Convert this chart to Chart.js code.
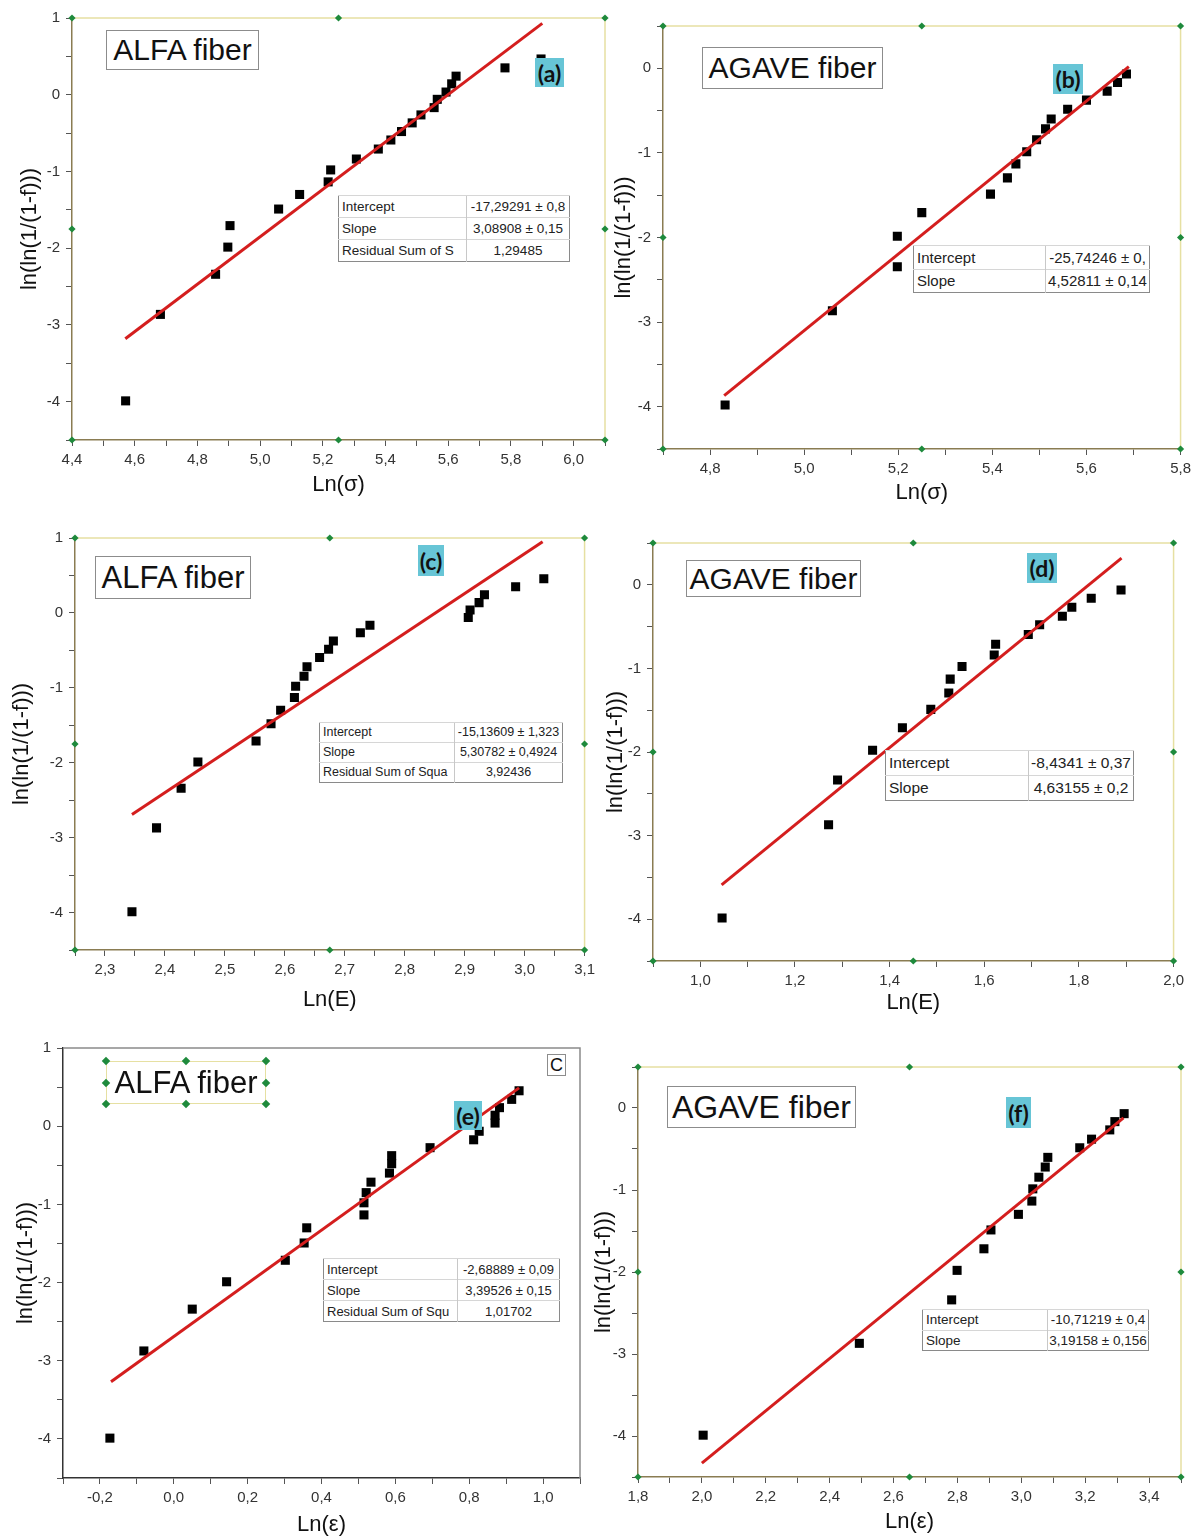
<!DOCTYPE html>
<html>
<head>
<meta charset="utf-8">
<script src="https://cdn.jsdelivr.net/npm/chart.js@4.4.1/dist/chart.umd.min.js"></script>
<style>
  body { margin:0; background:#fff; width:1197px; height:1538px; position:relative; overflow:hidden;
         font-family:"Liberation Sans", Arial, sans-serif; }
  canvas { position:absolute; }
  .ttl { position:absolute; box-sizing:border-box; border:1.5px solid #8c8c8c; background:#fff;
         display:flex; align-items:center; justify-content:center; color:#111; white-space:nowrap; }
  .tag { position:absolute; background:#67c5d6; font-family:Lato, "Open Sans", sans-serif; font-weight:bold;
         font-size:23px; display:flex; align-items:center; justify-content:center; color:#111; }
  table.fit { position:absolute; border-collapse:collapse; table-layout:fixed; background:#fff;
              border:1.5px solid #8a8a8a; color:#222; }
  table.fit td { border-top:1px solid #d6d6d6; padding:0 3px; white-space:nowrap; overflow:hidden; line-height:1; }
  table.fit td + td { border-left:1px solid #c8c8c8; text-align:center; padding:0 1px; }
  .hd { position:absolute; width:6px; height:6px; background:#1e8a3c; transform:rotate(45deg); }
</style>
</head>
<body>

<script>
// (a) ALFA fiber, Ln(sigma)
var alfaSigmaX = [4.571, 4.682, 4.858, 4.897, 4.904, 5.059, 5.126, 5.217, 5.225, 5.307, 5.377, 5.417, 5.451, 5.485, 5.513, 5.555, 5.565, 5.593, 5.611, 5.625, 5.781, 5.896];
var alfaSigmaY = [-3.99, -2.863, -2.34, -1.986, -1.706, -1.49, -1.30, -1.136, -0.98, -0.838, -0.708, -0.59, -0.48, -0.367, -0.263, -0.168, -0.06, 0.035, 0.142, 0.242, 0.35, 0.466];
var alfaSigmaFitX = [4.57, 5.90];
var alfaSigmaFitY = [-3.18, 0.93];

// (b) AGAVE fiber, Ln(sigma)
var agaveSigmaX = [4.832, 5.060, 5.198, 5.198, 5.250, 5.396, 5.432, 5.450, 5.473, 5.494, 5.513, 5.525, 5.560, 5.600, 5.644, 5.666, 5.685];
var agaveSigmaY = [-3.98, -2.865, -2.345, -1.985, -1.706, -1.487, -1.295, -1.13, -0.986, -0.845, -0.716, -0.60, -0.485, -0.376, -0.27, -0.168, -0.067];
var agaveSigmaFitX = [4.83, 5.69];
var agaveSigmaFitY = [-3.87, 0.02];

// (c) ALFA fiber, Ln(E)
var alfaEX = [2.345, 2.386, 2.427, 2.455, 2.552, 2.577, 2.593, 2.616, 2.618, 2.632, 2.637, 2.658, 2.673, 2.681, 2.726, 2.742, 2.906, 2.909, 2.924, 2.933, 2.985, 3.032];
var alfaEY = [-3.99, -2.87, -2.34, -1.99, -1.71, -1.48, -1.30, -1.13, -0.98, -0.845, -0.72, -0.595, -0.485, -0.376, -0.265, -0.165, -0.06, 0.04, 0.137, 0.243, 0.35, 0.455];
var alfaEFitX = [2.345, 3.03];
var alfaEFitY = [-2.69, 0.95];

// (d) AGAVE fiber, Ln(E)
var agaveEX = [1.046, 1.271, 1.290, 1.364, 1.427, 1.487, 1.525, 1.528, 1.553, 1.621, 1.624, 1.693, 1.717, 1.765, 1.785, 1.826, 1.889];
var agaveEY = [-3.985, -2.87, -2.335, -1.98, -1.71, -1.49, -1.294, -1.128, -0.977, -0.839, -0.712, -0.594, -0.479, -0.376, -0.269, -0.162, -0.063];
var agaveEFitX = [1.045, 1.89];
var agaveEFitY = [-3.59, 0.32];

// (e) ALFA fiber, Ln(epsilon)
var alfaEpsX = [-0.173, -0.081, 0.050, 0.143, 0.302, 0.353, 0.360, 0.515, 0.515, 0.521, 0.534, 0.584, 0.590, 0.590, 0.694, 0.812, 0.827, 0.870, 0.870, 0.882, 0.915, 0.935];
var alfaEpsY = [-3.99, -2.875, -2.34, -1.99, -1.715, -1.494, -1.30, -1.135, -0.98, -0.85, -0.716, -0.60, -0.48, -0.377, -0.275, -0.174, -0.065, 0.04, 0.14, 0.237, 0.343, 0.453];
var alfaEpsFitX = [-0.17, 0.935];
var alfaEpsFitY = [-3.27, 0.49];

// (f) AGAVE fiber, Ln(epsilon)
var agaveEpsX = [2.004, 2.493, 2.782, 2.799, 2.883, 2.905, 2.991, 3.033, 3.036, 3.055, 3.075, 3.083, 3.183, 3.220, 3.277, 3.293, 3.322];
var agaveEpsY = [-3.99, -2.87, -2.34, -1.98, -1.717, -1.487, -1.297, -1.135, -0.986, -0.844, -0.72, -0.602, -0.485, -0.38, -0.267, -0.166, -0.069];
var agaveEpsFitX = [2.0, 3.32];
var agaveEpsFitY = [-4.33, -0.12];

// axis ranges [min, max, tick step, label step]
var xAxisA = [4.4, 6.1, 0.1, 0.2];
var xAxisB = [4.7, 5.8, 0.1, 0.2];
var xAxisC = [2.25, 3.1, 0.05, 0.1];
var xAxisD = [0.9, 2.0, 0.1, 0.2];
var xAxisE = [-0.3, 1.1, 0.1, 0.2];
var xAxisF = [1.8, 3.5, 0.1, 0.2];
var yAxisTall = [-4.5, 1, 0.5, 1];
var yAxisShort = [-4.5, 0.5, 0.5, 1];

var yTitle = 'ln(ln(1/(1-f)))';

// layout: plot rectangle [left, top, right, bottom], y title centre x, x title offset
var panels = [
  { x: alfaSigmaX, y: alfaSigmaY, fx: alfaSigmaFitX, fy: alfaSigmaFitY, xa: xAxisA, ya: yAxisTall, xt: 'Ln(σ)', box: [72, 15, 605, 440], yT: 30, xT: 45, framed: true },
  { x: agaveSigmaX, y: agaveSigmaY, fx: agaveSigmaFitX, fy: agaveSigmaFitY, xa: xAxisB, ya: yAxisShort, xt: 'Ln(σ)', box: [663, 23, 1181, 449], yT: 624, xT: 44, framed: true },
  { x: alfaEX, y: alfaEY, fx: alfaEFitX, fy: alfaEFitY, xa: xAxisC, ya: yAxisTall, xt: 'Ln(E)', box: [75, 535, 585, 950], yT: 22, xT: 50, framed: true },
  { x: agaveEX, y: agaveEY, fx: agaveEFitX, fy: agaveEFitY, xa: xAxisD, ya: yAxisShort, xt: 'Ln(E)', box: [653, 540, 1174, 961], yT: 616, xT: 42, framed: true },
  { x: alfaEpsX, y: alfaEpsY, fx: alfaEpsFitX, fy: alfaEpsFitY, xa: xAxisE, ya: yAxisTall, xt: 'Ln(ε)', box: [63, 1045, 580, 1478], yT: 26, xT: 47, framed: false },
  { x: agaveEpsX, y: agaveEpsY, fx: agaveEpsFitX, fy: agaveEpsFitY, xa: xAxisF, ya: yAxisShort, xt: 'Ln(ε)', box: [638, 1064, 1181, 1477], yT: 604, xT: 45, framed: true }
];

function steps(a) {
  var out = [], n = Math.round((a[1] - a[0]) / a[2]);
  for (var i = 0; i <= n; i++) out.push(+(a[0] + i * a[2]).toFixed(4));
  return out;
}
function isStep(v, s) { return Math.abs(Math.round(v / s) * s - v) < 1e-6; }
function comma(v) { if (Math.abs(v) < 1e-9) v = 0; return v.toFixed(1).replace('.', ','); }

function diamond(ctx, x, y, r) {
  ctx.beginPath();
  ctx.moveTo(x, y - r); ctx.lineTo(x + r, y); ctx.lineTo(x, y + r); ctx.lineTo(x - r, y);
  ctx.closePath(); ctx.fill();
}

var framePlugin = {
  id: 'frame',
  afterDraw: function (chart, args, o) {
    var a = chart.chartArea, ctx = chart.ctx;
    ctx.save();
    ctx.strokeStyle = o.color; ctx.lineWidth = o.width;
    ctx.beginPath();
    ctx.moveTo(a.left, a.top); ctx.lineTo(a.right, a.top); ctx.lineTo(a.right, a.bottom);
    ctx.stroke();
    if (o.handles) {
      var mx = (a.left + a.right) / 2, my = (a.top + a.bottom) / 2;
      var pts = [[a.left, a.top], [mx, a.top], [a.right, a.top], [a.left, my], [a.right, my],
                 [a.left, a.bottom], [mx, a.bottom], [a.right, a.bottom]];
      ctx.fillStyle = '#1e8a3c';
      pts.forEach(function (p) { diamond(ctx, p[0], p[1], 3.6); });
    }
    ctx.restore();
  }
};

var FONT = '"Liberation Sans", Arial, sans-serif';

panels.forEach(function (p) {
  var L = p.box[0], T = p.box[1], R = p.box[2], B = p.box[3];
  var yw = L - p.yT + 11, xh = p.xT + 11;
  var left = L - yw, top = T - 12;
  var w = R + 15 - left, h = B + xh - top;
  var c = document.createElement('canvas');
  c.width = w; c.height = h;
  c.style.left = left + 'px'; c.style.top = top + 'px';
  c.style.width = w + 'px'; c.style.height = h + 'px';
  document.body.appendChild(c);

  var axisCol = p.framed ? '#8a7c52' : '#333';
  var pts = p.x.map(function (v, i) { return { x: v, y: p.y[i] }; });
  var fit = p.fx.map(function (v, i) { return { x: v, y: p.fy[i] }; });

  new Chart(c, {
    type: 'scatter',
    data: {
      datasets: [
        { data: fit, showLine: true, borderColor: 'rgb(212,30,30)', borderWidth: 3, pointRadius: 0, order: 0 },
        { data: pts, pointStyle: 'rect', pointRadius: 6.4, backgroundColor: '#000', borderWidth: 0, order: 1 }
      ]
    },
    options: {
      responsive: false, animation: false, events: [],
      layout: { padding: { top: 12, right: 15, bottom: 0, left: 0 } },
      plugins: {
        legend: { display: false }, tooltip: { enabled: false },
        frame: { color: p.framed ? '#e6e0a2' : '#8a8a8a', width: 1.5, handles: p.framed }
      },
      scales: {
        x: {
          type: 'linear', min: p.xa[0], max: p.xa[1],
          afterBuildTicks: function (s) { s.ticks = steps(p.xa).map(function (v) { return { value: v }; }); },
          afterFit: function (s) { s.height = xh; },
          ticks: {
            autoSkip: false, maxRotation: 0, padding: 5, color: '#333',
            font: { family: FONT, size: 15 },
            callback: function (v) { return isStep(v, p.xa[3]) ? comma(v) : ''; }
          },
          grid: { drawOnChartArea: false, drawTicks: true, tickLength: 6, tickColor: '#555', tickWidth: 1 },
          border: { display: true, color: axisCol, width: 1.5 },
          title: { display: true, text: p.xt, color: '#111', padding: 0, font: { family: FONT, size: 22, lineHeight: 1 } }
        },
        y: {
          type: 'linear', min: p.ya[0], max: p.ya[1],
          afterBuildTicks: function (s) { s.ticks = steps(p.ya).map(function (v) { return { value: v }; }); },
          afterFit: function (s) { s.width = yw; },
          ticks: {
            autoSkip: false, padding: 6, color: '#333',
            font: { family: FONT, size: 15 },
            callback: function (v) { return isStep(v, p.ya[3]) ? String(Math.round(v)) : ''; }
          },
          grid: { drawOnChartArea: false, drawTicks: true, tickLength: 6, tickColor: '#555', tickWidth: 1 },
          border: { display: true, color: axisCol, width: 1.5 },
          title: { display: true, text: yTitle, color: '#111', padding: 0, font: { family: FONT, size: 22, lineHeight: 1 } }
        }
      }
    },
    plugins: [framePlugin]
  });
});
</script>

<!-- (a) -->
<div class="ttl" style="left:106px;top:30px;width:153px;height:40px;font-size:30px">ALFA fiber</div>
<div class="tag" style="left:535px;top:58px;width:29px;height:29px">(a)</div>
<table class="fit" style="left:338px;top:195px;width:232px;font-size:13.5px">
  <colgroup><col style="width:128px"><col></colgroup>
  <tr style="height:22px"><td>Intercept</td><td>-17,29291 ± 0,8</td></tr>
  <tr style="height:22px"><td>Slope</td><td>3,08908 ± 0,15</td></tr>
  <tr style="height:22px"><td>Residual Sum of S</td><td>1,29485</td></tr>
</table>

<!-- (b) -->
<div class="ttl" style="left:702px;top:47px;width:181px;height:42px;font-size:30px">AGAVE fiber</div>
<div class="tag" style="left:1053px;top:64px;width:30px;height:30px">(b)</div>
<table class="fit" style="left:913px;top:245px;width:237px;font-size:15px">
  <colgroup><col style="width:132px"><col></colgroup>
  <tr style="height:23.5px"><td>Intercept</td><td>-25,74246 ± 0,</td></tr>
  <tr style="height:23.5px"><td>Slope</td><td>4,52811 ± 0,14</td></tr>
</table>

<!-- (c) -->
<div class="ttl" style="left:95px;top:556px;width:156px;height:43px;font-size:31px">ALFA fiber</div>
<div class="tag" style="left:418px;top:545px;width:26px;height:31px">(c)</div>
<table class="fit" style="left:319px;top:722px;width:244px;font-size:12.5px">
  <colgroup><col style="width:135px"><col></colgroup>
  <tr style="height:20px"><td>Intercept</td><td>-15,13609 ± 1,323</td></tr>
  <tr style="height:20px"><td>Slope</td><td>5,30782 ± 0,4924</td></tr>
  <tr style="height:20px"><td>Residual Sum of Squa</td><td>3,92436</td></tr>
</table>

<!-- (d) -->
<div class="ttl" style="left:686px;top:560px;width:175px;height:37px;font-size:30px">AGAVE fiber</div>
<div class="tag" style="left:1027px;top:553px;width:30px;height:30px">(d)</div>
<table class="fit" style="left:885px;top:750px;width:249px;font-size:15.5px">
  <colgroup><col style="width:143px"><col></colgroup>
  <tr style="height:25px"><td>Intercept</td><td>-8,4341 ± 0,37</td></tr>
  <tr style="height:25px"><td>Slope</td><td>4,63155 ± 0,2</td></tr>
</table>

<!-- (e) -->
<div class="ttl" style="left:106px;top:1061px;width:160px;height:43px;font-size:31px;border-color:#e6e0a2;background:transparent">ALFA fiber</div>
<div id="handles"></div>
<div class="ttl" style="left:547px;top:1054px;width:19px;height:22px;font-size:18px;border-width:1px">C</div>
<div class="tag" style="left:454px;top:1101px;width:28px;height:29px">(e)</div>
<table class="fit" style="left:323px;top:1258px;width:237px;font-size:13px">
  <colgroup><col style="width:134px"><col></colgroup>
  <tr style="height:21px"><td>Intercept</td><td>-2,68889 ± 0,09</td></tr>
  <tr style="height:21px"><td>Slope</td><td>3,39526 ± 0,15</td></tr>
  <tr style="height:21px"><td>Residual Sum of Squ</td><td>1,01702</td></tr>
</table>

<!-- (f) -->
<div class="ttl" style="left:667px;top:1086px;width:189px;height:42px;font-size:32px">AGAVE fiber</div>
<div class="tag" style="left:1006px;top:1097px;width:25px;height:31px">(f)</div>
<table class="fit" style="left:922px;top:1309px;width:227px;font-size:13.5px">
  <colgroup><col style="width:125px"><col></colgroup>
  <tr style="height:20.5px"><td>Intercept</td><td>-10,71219 ± 0,4</td></tr>
  <tr style="height:20.5px"><td>Slope</td><td>3,19158 ± 0,156</td></tr>
</table>

<script>
// selection handles around the (e) title box
(function () {
  var l = 106, t = 1061, r = 266, b = 1104, mx = (l + r) / 2, my = (t + b) / 2;
  var hp = [[l, t], [mx, t], [r, t], [l, my], [r, my], [l, b], [mx, b], [r, b]];
  var host = document.getElementById('handles');
  hp.forEach(function (q) {
    var d = document.createElement('div');
    d.className = 'hd';
    d.style.left = (q[0] - 3) + 'px'; d.style.top = (q[1] - 3) + 'px';
    host.appendChild(d);
  });
})();
</script>
</body>
</html>
